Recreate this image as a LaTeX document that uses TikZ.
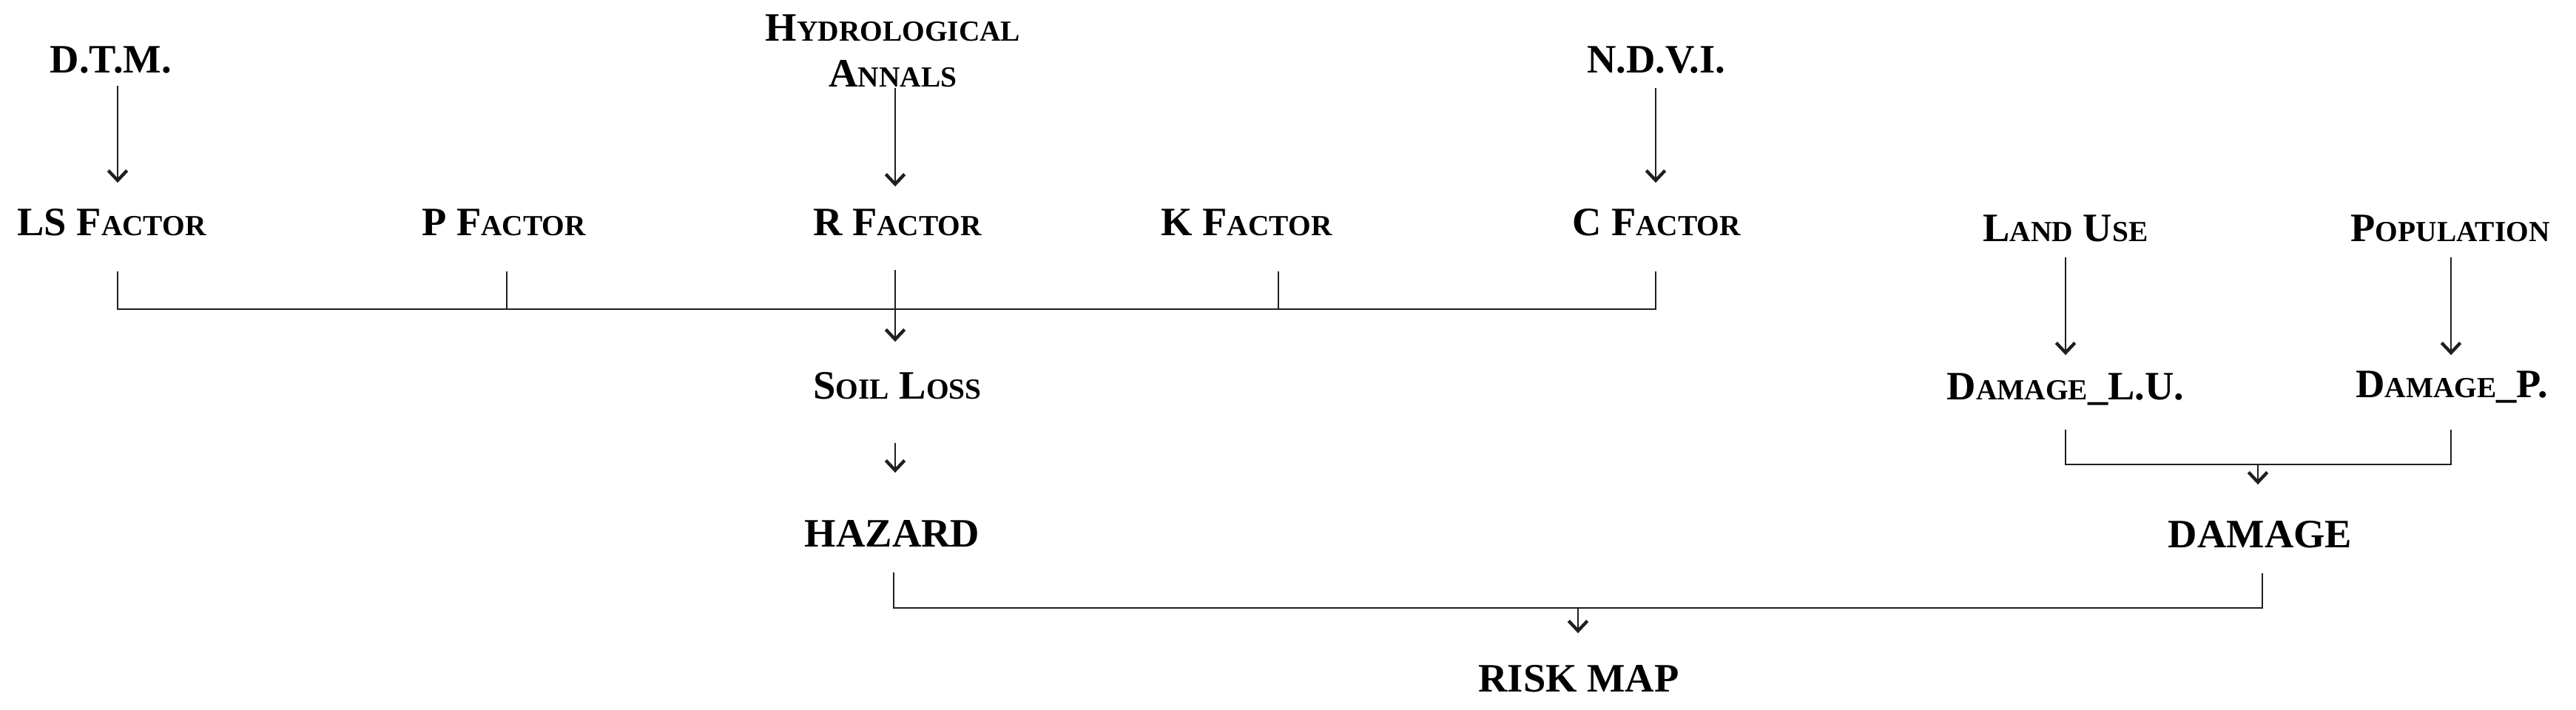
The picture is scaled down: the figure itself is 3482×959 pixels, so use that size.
\documentclass[tikz,border=0pt]{standalone}
\usepackage{fontspec}
\setmainfont{Liberation Serif}
\usetikzlibrary{arrows.meta,calc}
\newcommand{\fsc}[1]{{\fontsize{11.2pt}{11.2pt}\selectfont #1}}
\tikzset{
  lbl/.style={inner sep=0pt, anchor=base, text height=10.3pt, text depth=0pt,
    font=\bfseries\fontsize{15.5pt}{17.6pt}\selectfont, text=black},
  conn/.style={draw=black!88, line width=0.4pt},
  arr/.style={conn, -{Straight Barb[length=3.8pt,width=7.2pt,line width=1.25pt]}}
}
\begin{document}
\begin{tikzpicture}[x=0.01cm,y=-0.01cm]
\useasboundingbox (0,0) rectangle (3482,959);
% text nodes
\node[lbl] (dtm) at (150,98) {D.T.M.};
\node[lbl, align=center] (hyd) at (1207,117) {H\fsc{YDROLOGICAL}\\A\fsc{NNALS}};
\node[lbl] (ndvi) at (2239,98) {N.D.V.I.};
\node[lbl] (ls) at (151,318) {LS F\fsc{ACTOR}};
\node[lbl] (pf) at (681,318) {P F\fsc{ACTOR}};
\node[lbl] (rf) at (1213,318) {R F\fsc{ACTOR}};
\node[lbl] (kf) at (1685,318) {K F\fsc{ACTOR}};
\node[lbl] (cf) at (2239,318) {C F\fsc{ACTOR}};
\node[lbl] (lu) at (2792,326) {L\fsc{AND} U\fsc{SE}};
\node[lbl] (pop) at (3312,326) {P\fsc{OPULATION}};
\node[lbl] (soil) at (1213,539) {S\fsc{OIL} L\fsc{OSS}};
\node[lbl] (dlu) at (2792,540) {D\fsc{AMAGE}\_L.U.};
\node[lbl] (dp) at (3314,537) {D\fsc{AMAGE}\_P.};
\node[lbl] (haz) at (1206,739) {HAZARD};
\node[lbl] (dmg) at (3055,740) {DAMAGE};
\node[lbl] (risk) at (2134,935) {RISK MAP};
% connector x positions and bar levels
\coordinate (xls) at (159,0);
\coordinate (xp) at (685,0);
\coordinate (xr) at (1210,0);
\coordinate (xk) at (1728,0);
\coordinate (xc) at (2238,0);
\coordinate (xlu) at (2792,0);
\coordinate (xpop) at (3313,0);
\coordinate (xdmg) at (3052,0);
\coordinate (xhaz) at (1208,0);
\coordinate (xdm2) at (3058,0);
\coordinate (xrisk) at (2133,0);
\coordinate (barA) at (0,418);
\coordinate (barB) at (0,628);
\coordinate (barC) at (0,822);
% top arrows
\draw[arr] ($(dtm.south -| xls)+(0,17)$) -- ($(ls.north -| xls)+(0,-34)$);
\draw[arr] ($(hyd.south -| xr)+(0,1)$) -- ($(rf.north -| xr)+(0,-29)$);
\draw[arr] ($(ndvi.south -| xc)+(0,20)$) -- ($(cf.north -| xc)+(0,-34)$);
% factor bracket
\draw[conn] ($(ls.south -| xls)+(0,48)$) -- (xls |- barA) -- (xc |- barA) -- ($(cf.south -| xc)+(0,48)$);
\draw[conn] ($(pf.south -| xp)+(0,48)$) -- (xp |- barA);
\draw[conn] ($(kf.south -| xk)+(0,48)$) -- (xk |- barA);
\draw[arr] ($(rf.south -| xr)+(0,46)$) -- ($(soil.north -| xr)+(0,-40)$);
% soil loss to hazard
\draw[arr] ($(soil.south -| xr)+(0,59)$) -- ($(haz.north -| xr)+(0,-63)$);
% damage branch
\draw[arr] ($(lu.south -| xlu)+(0,21)$) -- ($(dlu.north -| xlu)+(0,-23)$);
\draw[arr] ($(pop.south -| xpop)+(0,21)$) -- ($(dp.north -| xpop)+(0,-20)$);
\draw[conn] ($(dlu.south -| xlu)+(0,40)$) -- (xlu |- barB) -- (xpop |- barB) -- ($(dp.south -| xpop)+(0,43)$);
\draw[arr] (xdmg |- barB) -- ($(dmg.north -| xdmg)+(0,-48)$);
% risk bracket
\draw[conn] ($(haz.south -| xhaz)+(0,34)$) -- (xhaz |- barC) -- (xdm2 |- barC) -- ($(dmg.south -| xdm2)+(0,34)$);
\draw[arr] (xrisk |- barC) -- ($(risk.north -| xrisk)+(0,-42)$);
\end{tikzpicture}
\end{document}
